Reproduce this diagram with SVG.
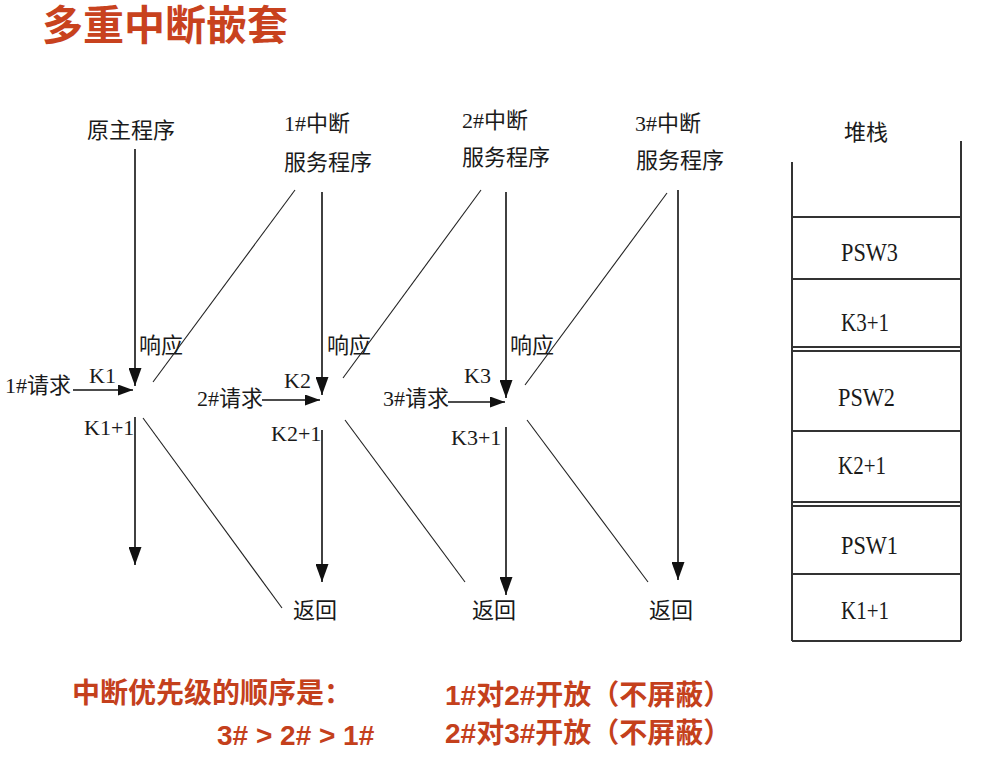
<svg xmlns="http://www.w3.org/2000/svg" width="1000" height="760" viewBox="0 0 1000 760">
<defs>
<marker id="av" viewBox="0 0 18 13" refX="18" refY="6.5" markerWidth="18" markerHeight="13" markerUnits="userSpaceOnUse" orient="auto">
<path d="M0,0 L18,6.5 L0,13 z" fill="#111"/>
</marker>
<marker id="ah" viewBox="0 0 15 11" refX="15" refY="5.5" markerWidth="15" markerHeight="11" markerUnits="userSpaceOnUse" orient="auto">
<path d="M0,0 L15,5.5 L0,11 z" fill="#111"/>
</marker>
</defs>
<style>
.lbl{font-family:"Liberation Serif","Noto Sans CJK SC",serif;font-size:22px;fill:#1a1a1a}
.k{font-family:"Liberation Serif","Noto Sans CJK SC",serif;font-size:22px;fill:#1a1a1a}
.s{font-family:"Liberation Serif",serif;font-size:25px;fill:#1a1a1a}
.red{font-family:"Liberation Sans","Noto Sans CJK SC",sans-serif;font-size:28px;font-weight:bold;fill:#c4401c}
.title{font-family:"Liberation Serif","Noto Sans CJK SC",serif;font-size:41px;font-weight:bold;fill:#c8421e}
.arr{stroke:#111;stroke-width:1.6;fill:none}
.thin{stroke:#222;stroke-width:1.1;fill:none}
.stk{stroke:#333;stroke-width:2;fill:none}
</style>
<rect width="1000" height="760" fill="#ffffff"/>

<text class="title" x="42" y="40">多重中断嵌套</text>

<g id="main-program">
<text class="lbl" x="131" y="138" text-anchor="middle">原主程序</text>
</g>
<g id="isr1">
<text class="lbl" x="317" y="131" text-anchor="middle">1#中断</text>
<text class="lbl" x="328" y="170" text-anchor="middle">服务程序</text>
</g>
<g id="isr2">
<text class="lbl" x="495" y="128" text-anchor="middle">2#中断</text>
<text class="lbl" x="506" y="165" text-anchor="middle">服务程序</text>
</g>
<g id="isr3">
<text class="lbl" x="668" y="131" text-anchor="middle">3#中断</text>
<text class="lbl" x="680" y="168" text-anchor="middle">服务程序</text>
</g>

<g id="labels">
<text class="lbl" x="5" y="393">1#请求</text>
<text class="lbl" x="197" y="406">2#请求</text>
<text class="lbl" x="383" y="406">3#请求</text>
<text class="lbl" x="139" y="353">响应</text>
<text class="lbl" x="327" y="353">响应</text>
<text class="lbl" x="510" y="353">响应</text>
<text class="k" x="89" y="383">K1</text>
<text class="k" x="284" y="388">K2</text>
<text class="k" x="464" y="383">K3</text>
<text class="k" x="84" y="435">K1+1</text>
<text class="k" x="271" y="441">K2+1</text>
<text class="k" x="451" y="445">K3+1</text>
<text class="lbl" x="315" y="618" text-anchor="middle">返回</text>
<text class="lbl" x="494" y="618" text-anchor="middle">返回</text>
<text class="lbl" x="671" y="618" text-anchor="middle">返回</text>
</g>

<g id="connectors">
<line class="arr" x1="135" y1="149" x2="135" y2="386" marker-end="url(#av)"/>
<line class="arr" x1="73" y1="390" x2="133" y2="390" marker-end="url(#ah)"/>
<line class="arr" x1="135" y1="417" x2="135" y2="565" marker-end="url(#av)"/>
<line class="arr" x1="322" y1="192" x2="322" y2="395" marker-end="url(#av)"/>
<line class="arr" x1="262" y1="400" x2="320" y2="400" marker-end="url(#ah)"/>
<line class="arr" x1="322" y1="430" x2="322" y2="582" marker-end="url(#av)"/>
<line class="arr" x1="506" y1="192" x2="506" y2="398" marker-end="url(#av)"/>
<line class="arr" x1="448" y1="402" x2="505" y2="402" marker-end="url(#ah)"/>
<line class="arr" x1="506" y1="427" x2="506" y2="595" marker-end="url(#av)"/>
<line class="arr" x1="678" y1="190" x2="678" y2="580" marker-end="url(#av)"/>
<line class="thin" x1="295" y1="190" x2="153" y2="382"/>
<line class="thin" x1="481" y1="190" x2="343" y2="378"/>
<line class="thin" x1="667" y1="193" x2="525" y2="385"/>
<line class="thin" x1="143" y1="418" x2="282" y2="608"/>
<line class="thin" x1="345" y1="420" x2="465" y2="582"/>
<line class="thin" x1="527" y1="420" x2="648" y2="582"/>
</g>

<g id="stack">
<text class="lbl" x="866" y="140" text-anchor="middle">堆栈</text>
<line class="stk" x1="792" y1="162" x2="792" y2="641"/>
<line class="stk" x1="961" y1="141" x2="961" y2="641"/>
<line class="stk" x1="792" y1="217" x2="961" y2="217"/>
<line class="stk" x1="792" y1="279" x2="961" y2="279"/>
<line class="stk" x1="792" y1="347" x2="961" y2="347" stroke-width="1.6"/>
<line class="stk" x1="792" y1="351" x2="961" y2="351" stroke-width="1.6"/>
<line class="stk" x1="792" y1="431" x2="961" y2="431"/>
<line class="stk" x1="792" y1="502" x2="961" y2="502" stroke-width="1.6"/>
<line class="stk" x1="792" y1="506" x2="961" y2="506" stroke-width="1.6"/>
<line class="stk" x1="792" y1="574" x2="961" y2="574"/>
<line class="stk" x1="792" y1="641" x2="961" y2="641"/>
<text class="s" x="841" y="261" textLength="57" lengthAdjust="spacingAndGlyphs">PSW3</text>
<text class="s" x="841" y="331" textLength="48" lengthAdjust="spacingAndGlyphs">K3+1</text>
<text class="s" x="838" y="406" textLength="57" lengthAdjust="spacingAndGlyphs">PSW2</text>
<text class="s" x="838" y="474" textLength="48" lengthAdjust="spacingAndGlyphs">K2+1</text>
<text class="s" x="841" y="554" textLength="57" lengthAdjust="spacingAndGlyphs">PSW1</text>
<text class="s" x="841" y="619" textLength="48" lengthAdjust="spacingAndGlyphs">K1+1</text>
</g>

<g id="notes">
<text class="red" x="72" y="703">中断优先级的顺序是：</text>
<text class="red" x="217" y="745">3# &gt; 2# &gt; 1#</text>
<text class="red" x="445" y="705">1#对2#开放（不屏蔽）</text>
<text class="red" x="445" y="743">2#对3#开放（不屏蔽）</text>
</g>
</svg>
